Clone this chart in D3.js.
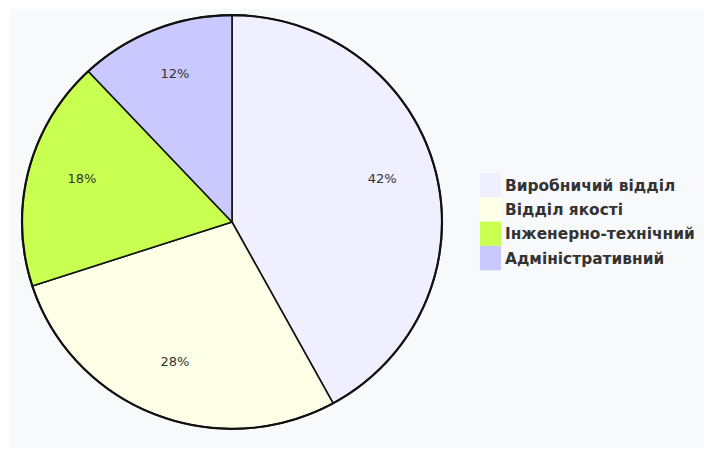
<!DOCTYPE html>
<html><head><meta charset="utf-8">
<script src="https://cdn.jsdelivr.net/npm/d3@7/dist/d3.min.js"></script>
<style>body{margin:0;background:#fff;}svg{display:block;}</style>
</head><body>
<svg id="chart" width="704" height="450"></svg>
<script>
const categories = ["Виробничий відділ", "Відділ якості", "Інженерно-технічний", "Адміністративний"];
const values = [42, 28, 18, 12];
const colors = ["#efefff", "#fdffe6", "#c8ff50", "#c9c9ff"];

const svg = d3.select("#chart");
svg.append("rect").attr("x", 10).attr("y", 9).attr("width", 694).attr("height", 439).attr("fill", "#f8f9fb");

const cx = 232, cy = 222, R = 210;
const g = svg.append("g").attr("transform", `translate(${cx},${cy})`);
const gs = g.append("g").attr("transform", "scale(1,0.985)");
const pie = d3.pie().sort(null).value(d => d)(values);
const arc = d3.arc().innerRadius(0).outerRadius(R);
const labelArc = d3.arc().innerRadius(155).outerRadius(155);

gs.selectAll("path.slice").data(pie).enter().append("path")
  .attr("class", "slice")
  .attr("d", arc)
  .attr("fill", (d, i) => colors[i])
  .attr("stroke", "#111")
  .attr("stroke-width", 1.6)
  .attr("stroke-linejoin", "round");

gs.append("circle").attr("r", R).attr("fill", "none").attr("stroke", "#111").attr("stroke-width", 2.2);

g.selectAll("text.lbl").data(pie).enter().append("text")
  .attr("class", "lbl")
  .attr("transform", d => `translate(${labelArc.centroid(d)})`)
  .attr("text-anchor", "middle")
  .attr("font-family", "DejaVu Sans, sans-serif")
  .attr("font-size", 13)
  .attr("fill", "#333")
  .text(d => d.data + "%");

const lg = svg.append("g").attr("transform", "translate(480,173)");
const rowH = 24.3;
categories.forEach((c, i) => {
  lg.append("rect").attr("x", 0).attr("y", i * rowH).attr("width", 21).attr("height", rowH)
    .attr("fill", colors[i]);
  lg.append("text").attr("x", 25).attr("y", i * rowH + rowH / 2 + 5.5)
    .attr("font-family", "DejaVu Sans, sans-serif")
    .attr("font-weight", "bold")
    .attr("font-size", 15.4)
    .attr("fill", "#333")
    .text(c);
});
</script>
</body></html>
